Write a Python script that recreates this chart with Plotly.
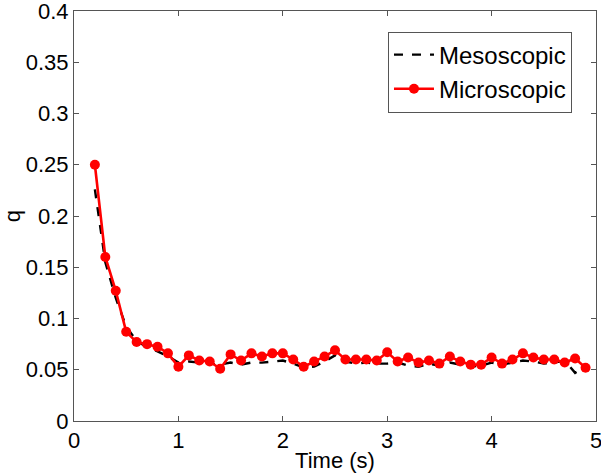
import plotly.graph_objects as go

time_s = [0.2, 0.3, 0.4, 0.5, 0.6, 0.7, 0.8, 0.9, 1.0, 1.1, 1.2, 1.3, 1.4, 1.5, 1.6, 1.7,
          1.8, 1.9, 2.0, 2.1, 2.2, 2.3, 2.4, 2.5, 2.6, 2.7, 2.8, 2.9, 3.0, 3.1, 3.2, 3.3,
          3.4, 3.5, 3.6, 3.7, 3.8, 3.9, 4.0, 4.1, 4.2, 4.3, 4.4, 4.5, 4.6, 4.7, 4.8, 4.9]

mesoscopic = [0.226, 0.155, 0.120, 0.092, 0.078, 0.072, 0.068, 0.063, 0.057, 0.058, 0.057, 0.056,
              0.055, 0.057, 0.055, 0.057, 0.057, 0.058, 0.059, 0.056, 0.052, 0.053, 0.058, 0.064,
              0.058, 0.056, 0.057, 0.056, 0.056, 0.057, 0.054, 0.053, 0.056, 0.054, 0.057, 0.055,
              0.053, 0.054, 0.057, 0.055, 0.057, 0.059, 0.058, 0.056, 0.057, 0.059, 0.047, 0.053]

microscopic = [0.250, 0.160, 0.127, 0.087, 0.077, 0.075, 0.0725, 0.066, 0.053, 0.064, 0.059, 0.058,
               0.051, 0.065, 0.059, 0.066, 0.063, 0.066, 0.066, 0.060, 0.053, 0.058, 0.063, 0.069,
               0.060, 0.060, 0.060, 0.059, 0.067, 0.058, 0.062, 0.057, 0.059, 0.056, 0.063, 0.058,
               0.055, 0.055, 0.062, 0.056, 0.060, 0.066, 0.062, 0.060, 0.060, 0.057, 0.061, 0.052]

x_ticks = [0, 1, 2, 3, 4, 5]
y_ticks = [0, 0.05, 0.1, 0.15, 0.2, 0.25, 0.3, 0.35, 0.4]
y_tick_labels = ["0", "0.05", "0.1", "0.15", "0.2", "0.25", "0.3", "0.35", "0.4"]

FONT = "Liberation Sans"
FS = 22

fig = go.Figure()
fig.add_trace(go.Scatter(x=time_s, y=mesoscopic, mode="lines", name="Mesoscopic",
                         line=dict(color="black", width=2.4, dash="dash")))
fig.add_trace(go.Scatter(x=time_s, y=microscopic, mode="lines+markers", name="Microscopic",
                         line=dict(color="#ff0000", width=2.6),
                         marker=dict(color="#ff0000", size=10, symbol="circle")))

axis_common = dict(showline=True, linecolor="#555555", linewidth=1, mirror="ticks",
                   ticks="inside", ticklen=5, tickcolor="#555555", showgrid=False,
                   zeroline=False, ticklabeloverflow="allow", automargin=False,
                   tickfont=dict(family=FONT, size=FS, color="black"))

fig.update_xaxes(range=[0, 5], tickvals=x_ticks,
                 title=dict(text="Time (s)", standoff=0,
                            font=dict(family=FONT, size=FS, color="black")),
                 **axis_common)
fig.update_yaxes(range=[0, 0.4], tickvals=y_ticks, ticktext=y_tick_labels,
                 title=dict(text="q", standoff=6,
                            font=dict(family=FONT, size=FS, color="black")),
                 **axis_common)

fig.update_layout(
    width=601, height=475,
    margin=dict(l=74, r=5, t=11, b=54),
    paper_bgcolor="white", plot_bgcolor="white",
    showlegend=True,
    legend=dict(x=0.954, y=0.95, xanchor="right", yanchor="top",
                bgcolor="white", bordercolor="#555555", borderwidth=1,
                font=dict(family=FONT, size=24, color="black"),
                itemwidth=40, tracegroupgap=2),
)

fig.write_html("out.html", config={"displayModeBar": False},
               post_script="document.body.style.margin='0';document.body.style.overflow='hidden';")
